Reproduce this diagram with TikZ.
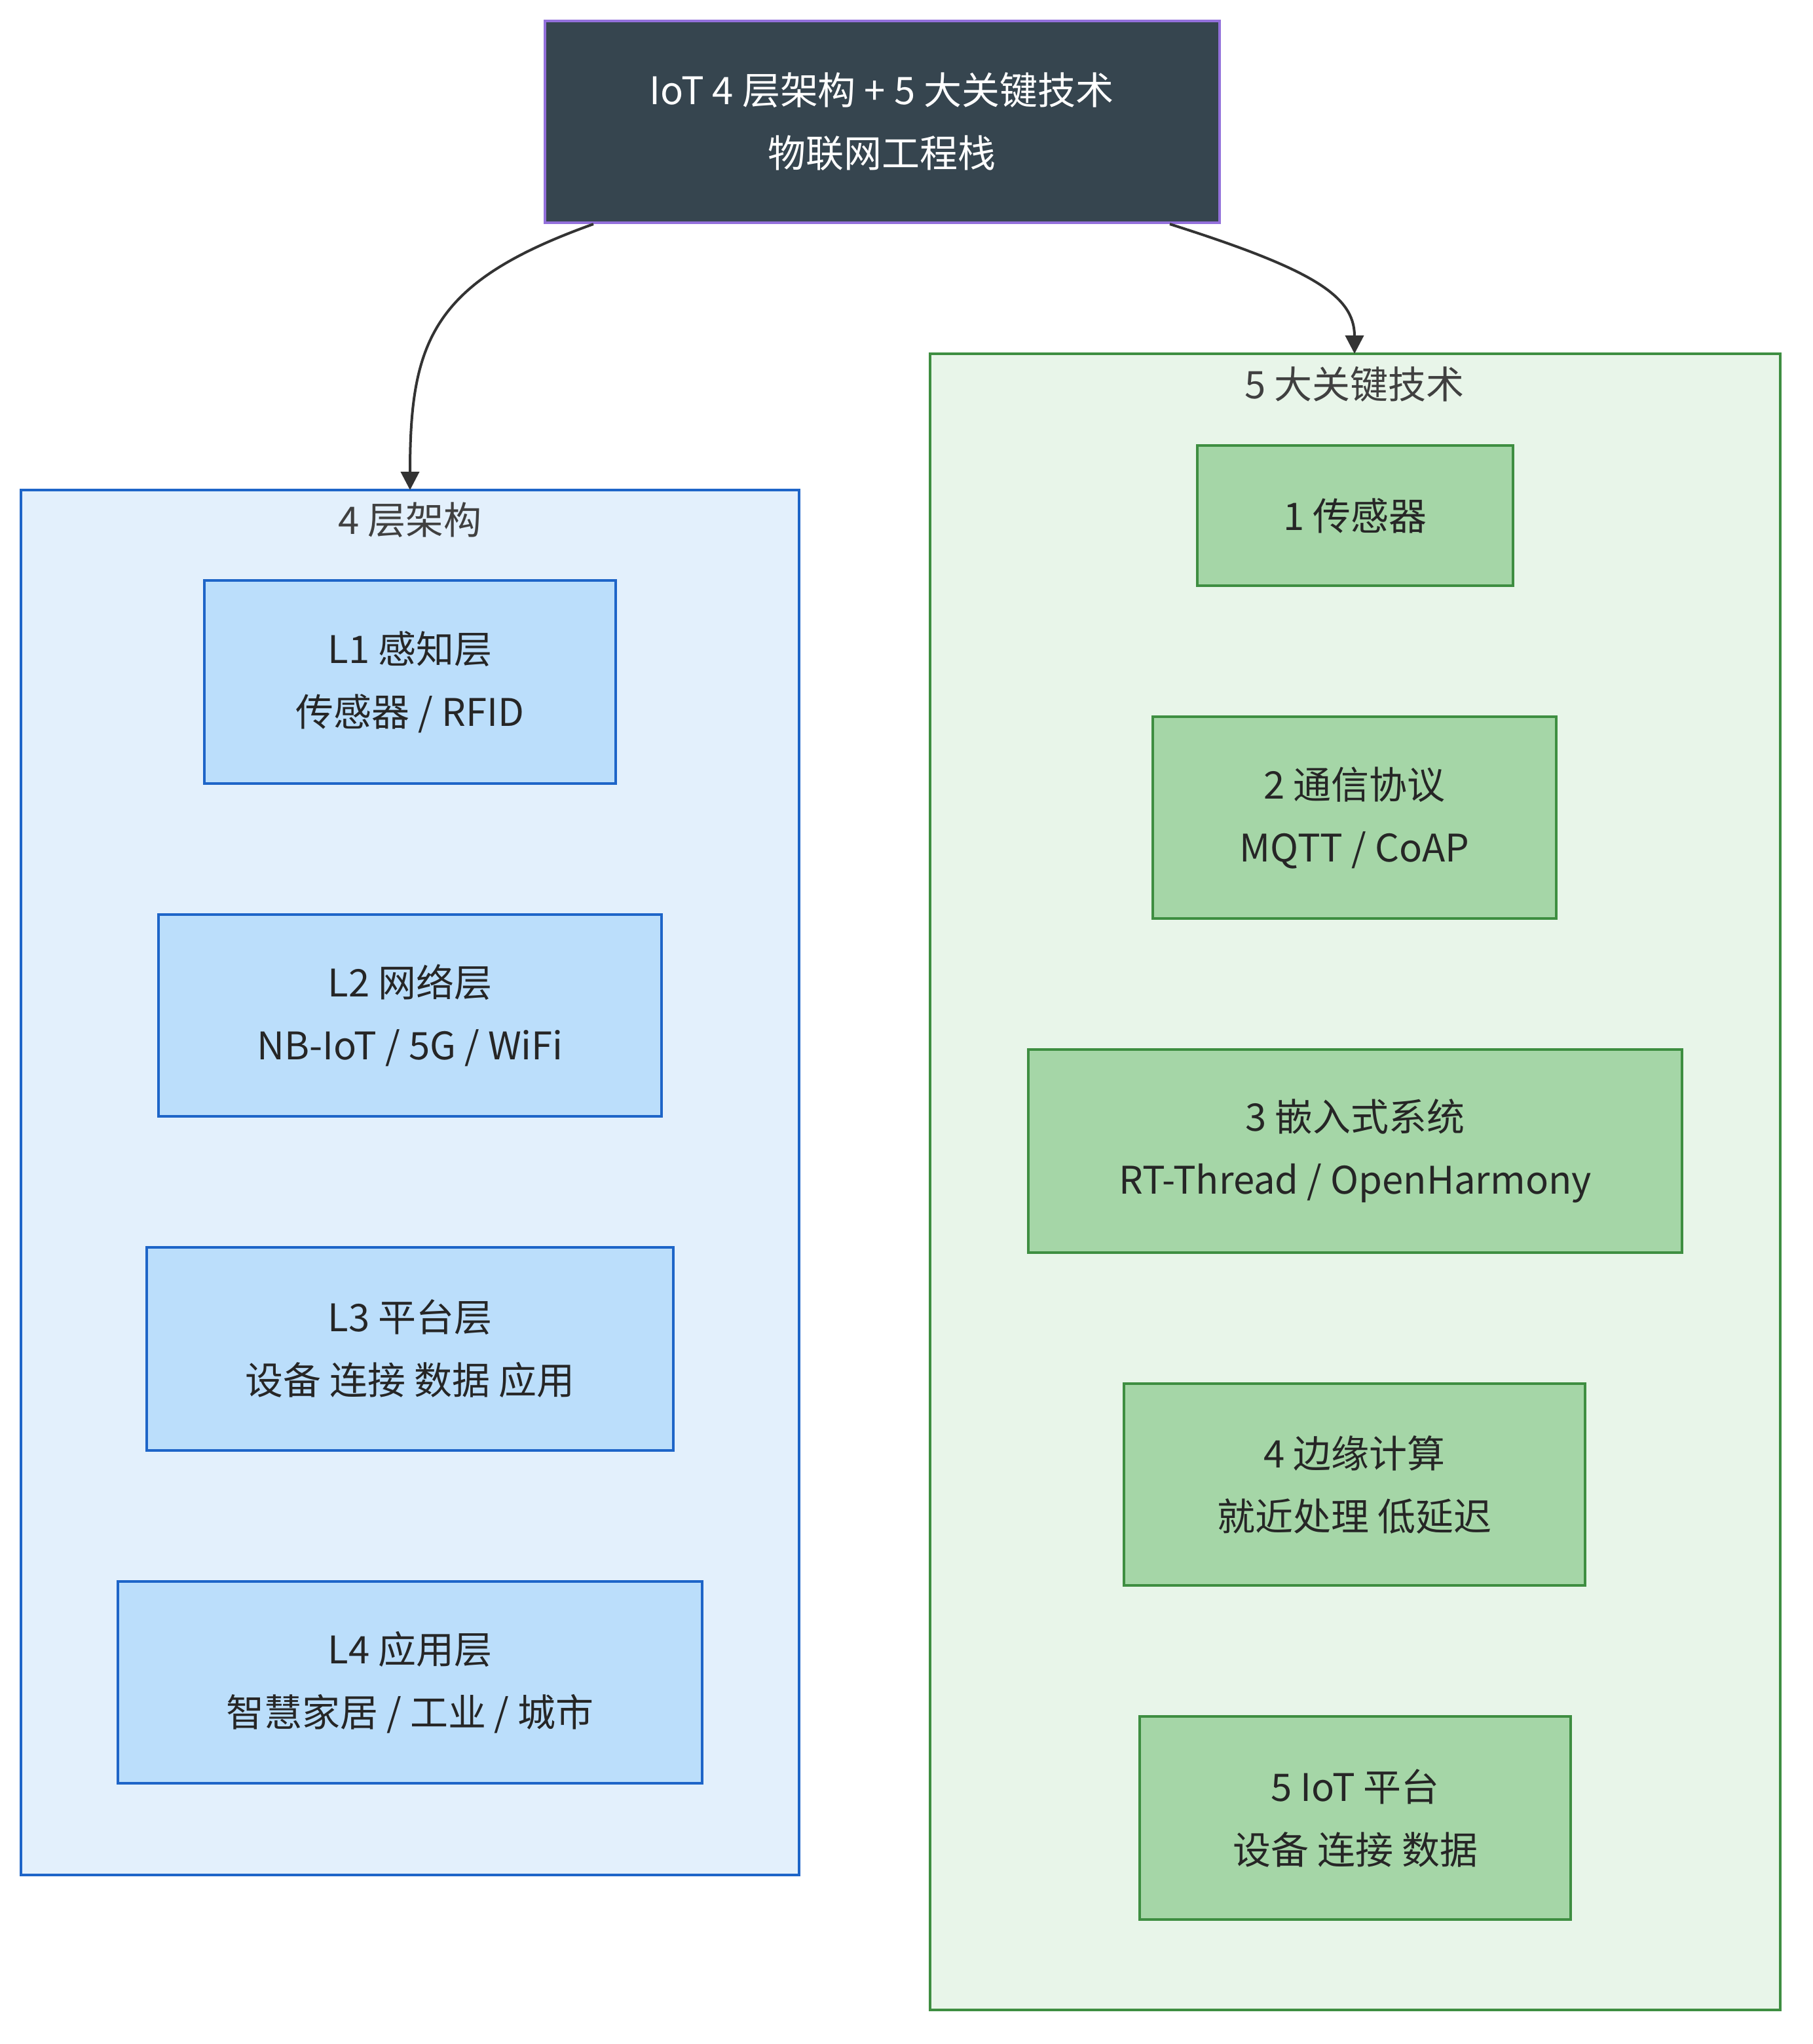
\documentclass[tikz,border=0pt]{standalone}
\usepackage{fontspec}
\setmainfont{Noto Sans CJK SC}
\usetikzlibrary{arrows.meta}
\definecolor{topf}{HTML}{36454F}\definecolor{topd}{HTML}{9370DB}
\definecolor{bf}{HTML}{E3F0FC}\definecolor{bb}{HTML}{BBDEFB}\definecolor{bd}{HTML}{1E65C8}
\definecolor{gf}{HTML}{E8F5E9}\definecolor{gb}{HTML}{A5D6A7}\definecolor{gd}{HTML}{3E8E41}
\definecolor{ln}{HTML}{333333}
\begin{document}
\begin{tikzpicture}[x=0.5pt,y=-0.5pt,
 txt/.style={align=center,font=\fontsize{14.5}{24}\selectfont,text=black!85},
 box/.style={draw=#1,line width=0.8pt},
 edge/.style={draw=ln,line width=1pt,-{Triangle[length=7pt,width=7pt]}}]
\useasboundingbox (0,0) rectangle (1384,1560);
% clusters
\filldraw[fill=bf,box=bd] (16,374) rectangle (610,1431);
\node[txt,text=black!75] (ct1) at (313,397) {4 层架构};
\filldraw[fill=gf,box=gd] (710,270) rectangle (1359,1534);
\node[txt,text=black!75] (ct2) at (1034,293) {5 大关键技术};
% top
\filldraw[fill=topf,box=topd] (416,16) rectangle (931,170);
\node[txt,text=white] (top) at (673,93) {IoT 4 层架构 + 5 大关键技术\\物联网工程栈};
% left nodes
\foreach \n/\a/\b/\c/\d/\t in {l1/156/443/470/598/{L1 感知层\\传感器 / RFID},
 l2/121/698/505/852/{L2 网络层\\NB-IoT / 5G / WiFi},
 l3/112/952/514/1107/{L3 平台层\\设备 连接 数据 应用},
 l4/90/1207/536/1361/{L4 应用层\\智慧家居 / 工业 / 城市}}{
 \filldraw[fill=bb,box=bd] (\a,\b) rectangle (\c,\d);
 \node[txt] (\n) at ({(\a+\c)/2},{(\b+\d)/2}) {\t};}
\foreach \n/\a/\b/\c/\d/\t in {g1/914/340/1155/447/{1 传感器},
 g2/880/547/1188/701/{2 通信协议\\MQTT / CoAP},
 g3/785/801/1284/956/{3 嵌入式系统\\RT-Thread / OpenHarmony},
 g4/858/1056/1210/1210/{4 边缘计算\\就近处理 低延迟},
 g5/870/1310/1199/1465/{5 IoT 平台\\设备 连接 数据}}{
 \filldraw[fill=gb,box=gd] (\a,\b) rectangle (\c,\d);
 \node[txt] (\n) at ({(\a+\c)/2},{(\b+\d)/2}) {\t};}
\coordinate (s1) at (453,171);\coordinate (e1) at (313,374);
\coordinate (s2) at (893,171);\coordinate (e2) at (1034,270);
\draw[edge] (s1) .. controls (330,215) and (313,260) .. (e1);
\draw[edge] (s2) .. controls (1000,205) and (1034,225) .. (e2);
\end{tikzpicture}
\end{document}
